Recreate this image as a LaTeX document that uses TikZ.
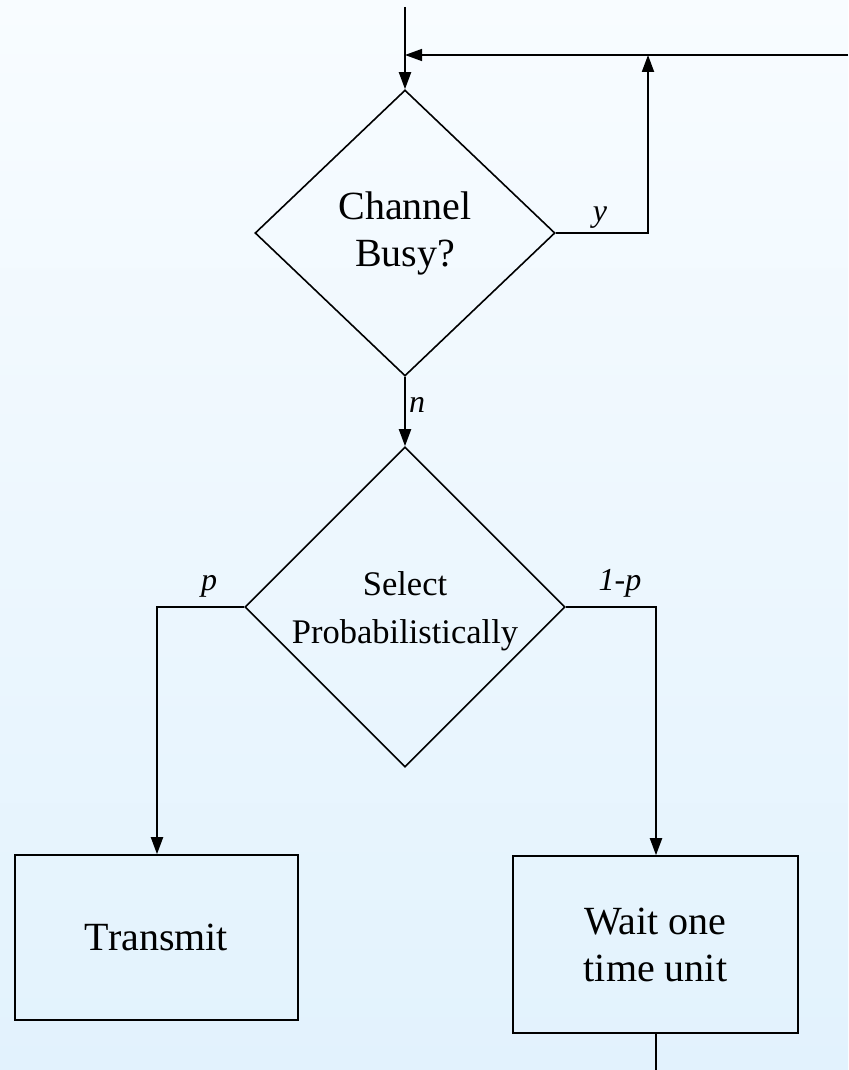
\documentclass[tikz,border=0pt]{standalone}
\usepackage{fontspec}
\setmainfont{Liberation Serif}
\usetikzlibrary{shapes.geometric,arrows.meta}
\definecolor{bgtop}{RGB}{248,252,255}
\definecolor{bgbot}{RGB}{226,242,253}
\tikzset{
  flow/.style={line width=2pt,-{Triangle[length=17pt,width=12pt]}},
  plainline/.style={line width=2pt},
  decision/.style={diamond,draw,line width=1.6pt,inner sep=0pt,align=center},
  stepbox/.style={rectangle,draw,line width=1.6pt,inner sep=0pt,align=center,font=\fontsize{40}{47}\selectfont},
  lbl/.style={font=\itshape\fontsize{32}{38}\selectfont,inner sep=0pt,anchor=base}
}
\begin{document}
\begin{tikzpicture}[x=1pt,y=-1pt]
\fill[top color=bgtop,bottom color=bgbot] (0,0) rectangle (848,1070);
\useasboundingbox (0,0) rectangle (848,1070);
% nodes
\node[decision,minimum width=300pt,minimum height=286pt,font=\fontsize{40}{47}\selectfont] (busy) at (405,233) {Channel\\Busy?};
\node[decision,minimum width=320pt,minimum height=320pt,
  label={[font=\fontsize{34.5}{48}\selectfont,align=center,yshift=-4pt]center:Select\\Probabilistically}] (sel) at (405,607) {};
\node[stepbox,minimum width=283pt,minimum height=165pt] (tx) at (156.5,937.5) {Transmit};
\node[stepbox,minimum width=285pt,minimum height=177pt] (wait) at (655.5,944.5) {Wait one\\time unit};
% free ends
\coordinate (in) at (405,7);
\coordinate (join) at (405,55);
\coordinate (rt) at (848,55);
\coordinate (yc) at (648,233);
\coordinate (yt) at (648,55);
\coordinate (pc) at (157,607);
\coordinate (qc) at (656,607);
\coordinate (out) at (656,1070);
% connectors
\draw[flow] (in) -- (busy.north);
\draw[flow,line width=1.5pt] (rt) -- (join);
\draw[flow] (busy.east) -- (yc) -- (yt);
\draw[flow] (busy.south) -- (sel.north);
\draw[flow] (sel.west) -- (pc) -- (tx.north -| pc);
\draw[flow] (sel.east) -- (qc) -- (wait.north -| qc);
\draw[plainline] (wait.south -| out) -- (out);
% labels
\node[lbl] (ly) at (600,221) {y};
\node[lbl] (ln) at (417,412) {n};
\node[lbl] (lp) at (209,590) {p};
\node[lbl] (lq) at (620,590) {1-p};
\end{tikzpicture}
\end{document}
